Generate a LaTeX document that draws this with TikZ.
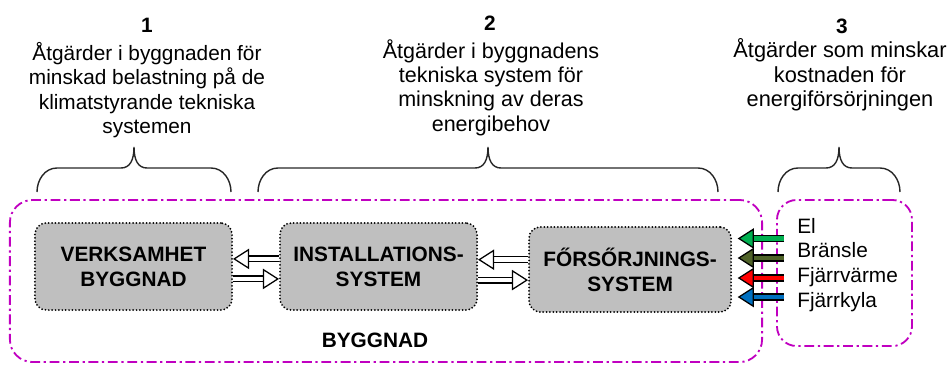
\documentclass[tikz,border=0pt]{standalone}
\usepackage{fontspec}
\setmainfont{Liberation Sans}
\usetikzlibrary{arrows.meta,positioning}

\definecolor{zonemagenta}{RGB}{192,0,192}
\definecolor{elgreen}{RGB}{0,176,80}
\definecolor{fuelgreen}{RGB}{79,98,40}
\definecolor{heatred}{RGB}{255,0,0}
\definecolor{coolblue}{RGB}{0,112,192}
\definecolor{boxgray}{RGB}{191,191,191}

\tikzset{
	txt/.style={font=\fontsize{14.8pt}{17.4pt}\selectfont, inner sep=0pt},
	head/.style={txt, font=\fontsize{14.8pt}{17pt}\selectfont\bfseries, anchor=base},
	note/.style={txt, font=\fontsize{15.3pt}{17.3pt}\selectfont, align=center, anchor=north},
	system/.style={draw, fill=boxgray, rounded corners=8pt, line width=1.4pt,
		dash pattern=on 0pt off 2.4pt, line cap=round,
		minimum width=4.925cm, minimum height=2.175cm, align=center,
		font=\fontsize{14.8pt}{17.7pt}\selectfont\bfseries},
	zone/.style={draw=zonemagenta, line width=1.3pt,
		dash pattern=on 7pt off 2.6pt on 1.6pt off 2.6pt, rounded corners=#1},
	flow/.style={draw=black, line width=0.9pt, double=#1, double distance=3.2pt,
		-{Triangle[fill=#1, line width=0.9pt, length=11.5pt, width=14.5pt]}},
	bracket/.style={line width=1pt, draw=black!85},
}

\begin{document}
\begin{tikzpicture}[x=0.025cm, y=-0.025cm]
\useasboundingbox (0,0) rectangle (949,364);

% zones
\node[zone=16pt, minimum width=18.8cm, minimum height=4.05cm] (building) at (386,281) {};
\node[zone=14pt, minimum width=3.375cm, minimum height=3.65cm] (supply) at (844.5,273) {};
\node[head] (bname) at (375,347) {BYGGNAD};

% systems
\node[system] (verk) at (133.5,266.5) {VERKSAMHET\\BYGGNAD};
\node[system, right=1.15cm of verk] (inst) {INSTALLATIONS-\\SYSTEM};
\node[system, right=1.25cm of inst, minimum width=5.05cm, minimum height=2.125cm,
	yshift=-0.075cm] (fors) {FŐRSŐRJNINGS-\\SYSTEM};

% flows between systems
\draw[flow=white] ([yshift=0.19cm]inst.west) -- ([yshift=0.19cm]verk.east);
\draw[flow=white] ([yshift=-0.31cm]verk.east) -- ([yshift=-0.31cm]inst.west);
\draw[flow=white] ([yshift=0.17cm]inst.east -| fors.west) -- ([yshift=0.17cm]inst.east);
\draw[flow=white] ([yshift=-0.34cm]inst.east) -- ([yshift=-0.34cm]inst.east -| fors.west);

% energy carriers
\foreach \name/\col/\yt/\ya [count=\i] in {El/elgreen/233/238.5, Bränsle/fuelgreen/257/258,
	Fjärrvärme/heatred/282/278, Fjärrkyla/coolblue/307/297}{
	\node[txt, anchor=base west] (carrier\i) at (797,\yt) {\name};
	\draw[flow=\col, shorten >=4pt] (784,\ya) coordinate (src\i) -- (src\i -| fors.east);
}

% headings
\node[head] (h1) at (147,32) {1};
\node[note, font=\fontsize{14.8pt}{17.3pt}\selectfont] (t1) at (147,42) {Åtgärder i byggnaden för\\minskad belastning på de\\klimatstyrande tekniska\\systemen};
\node[head] (h2) at (490,30) {2};
\node[note] (t2) at (491,39) {Åtgärder i byggnadens\\tekniska system för\\minskning av deras\\energibehov};
\node[head] (h3) at (842,33) {3};
\node[note, font=\fontsize{15.5pt}{17.6pt}\selectfont] (t3) at (840,38) {Åtgärder som minskar\\kostnaden för\\energiförsörjningen};

% braces
\foreach \xa/\xb [evaluate=\xa as \xm using (\xa+\xb)/2] in {37/231, 258/718, 778/900}
	\draw[bracket] (\xa,192) to[out=90, in=180] (\xa+20,168) -- (\xm-13,168)
		.. controls (\xm-4,168) and (\xm,160) .. (\xm,147)
		.. controls (\xm,160) and (\xm+4,168) .. (\xm+13,168)
		-- (\xb-20,168) to[out=0, in=90] (\xb,192);
\end{tikzpicture}
\end{document}
